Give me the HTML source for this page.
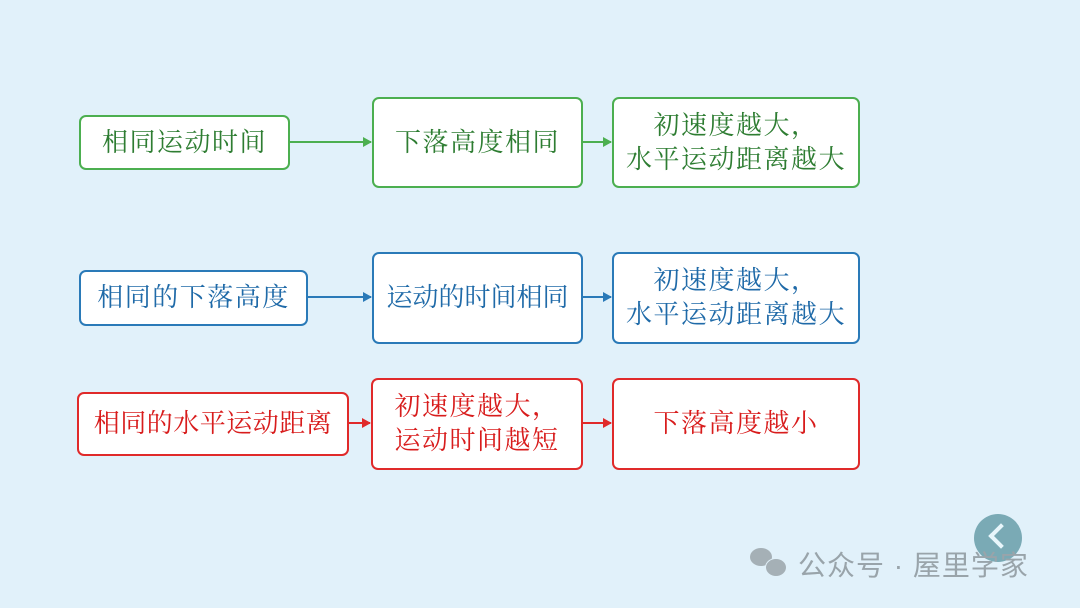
<!DOCTYPE html><html><head><meta charset="utf-8"><style>
body{margin:0;width:1080px;height:608px;background:#e1f1fa;position:relative;overflow:hidden;font-family:"Noto Serif CJK SC","Liberation Serif",serif}
.b{position:absolute;box-sizing:border-box;border:2px solid;border-radius:7px;background:#fff;display:flex;align-items:center;justify-content:center;text-align:center;font-size:26px;line-height:34px;letter-spacing:1.5px;padding-bottom:4px;white-space:nowrap}
.g{border-color:#4caf50;color:#2e7d32}.u{border-color:#2a7ab8;color:#1f6aa8}.r{border-color:#e02a2a;color:#d81c1c}
.a{position:absolute;height:2px}
.a:after{content:"";position:absolute;right:-1px;top:-4px;border-left:9px solid;border-left-color:inherit;border-top:5px solid transparent;border-bottom:5px solid transparent}
</style></head><body>
<div class="b g" style="left:79px;top:115px;width:211px;height:55px">相同运动时间</div>
<div class="b g" style="left:372px;top:97px;width:211px;height:91px">下落高度相同</div>
<div class="b g" style="left:612px;top:97px;width:248px;height:91px">初速度越大，<br>水平运动距离越大</div>
<div class="a" style="left:290px;top:141px;width:81px;background:#4caf50;border-color:#4caf50"></div>
<div class="a" style="left:583px;top:141px;width:28px;background:#4caf50;border-color:#4caf50"></div>

<div class="b u" style="left:79px;top:270px;width:229px;height:56px">相同的下落高度</div>
<div class="b u" style="left:372px;top:252px;width:211px;height:92px;letter-spacing:0">运动的时间相同</div>
<div class="b u" style="left:612px;top:252px;width:248px;height:92px">初速度越大，<br>水平运动距离越大</div>
<div class="a" style="left:308px;top:296px;width:63px;background:#2a7ab8;border-color:#2a7ab8"></div>
<div class="a" style="left:583px;top:296px;width:28px;background:#2a7ab8;border-color:#2a7ab8"></div>

<div class="b r" style="left:77px;top:392px;width:272px;height:64px;letter-spacing:0.5px">相同的水平运动距离</div>
<div class="b r" style="left:371px;top:378px;width:212px;height:92px">初速度越大，<br>运动时间越短</div>
<div class="b r" style="left:612px;top:378px;width:248px;height:92px">下落高度越小</div>
<div class="a" style="left:349px;top:422px;width:21px;background:#e02a2a;border-color:#e02a2a"></div>
<div class="a" style="left:583px;top:422px;width:28px;background:#e02a2a;border-color:#e02a2a"></div>

<div style="position:absolute;left:974px;top:514px;width:48px;height:48px;border-radius:50%;background:#7aaab5"></div>
<div style="position:absolute;left:992px;top:527px;width:14px;height:14px;border-left:4px solid #e8f6fb;border-bottom:4px solid #e8f6fb;transform:rotate(45deg)"></div>
<div style="position:absolute;left:750px;top:548px;width:22px;height:18px;border-radius:50%;background:#a5b0b6"></div>
<div style="position:absolute;left:765px;top:558px;width:20px;height:17px;border-radius:50%;background:#a5b0b6;border:1px solid #e1f1fa"></div>
<div style="position:absolute;left:798px;top:544px;font-family:'Liberation Sans','Noto Sans CJK SC',sans-serif;font-size:28px;color:#99a4aa;letter-spacing:1px">公众号 · 屋里学家</div>
</body></html>
